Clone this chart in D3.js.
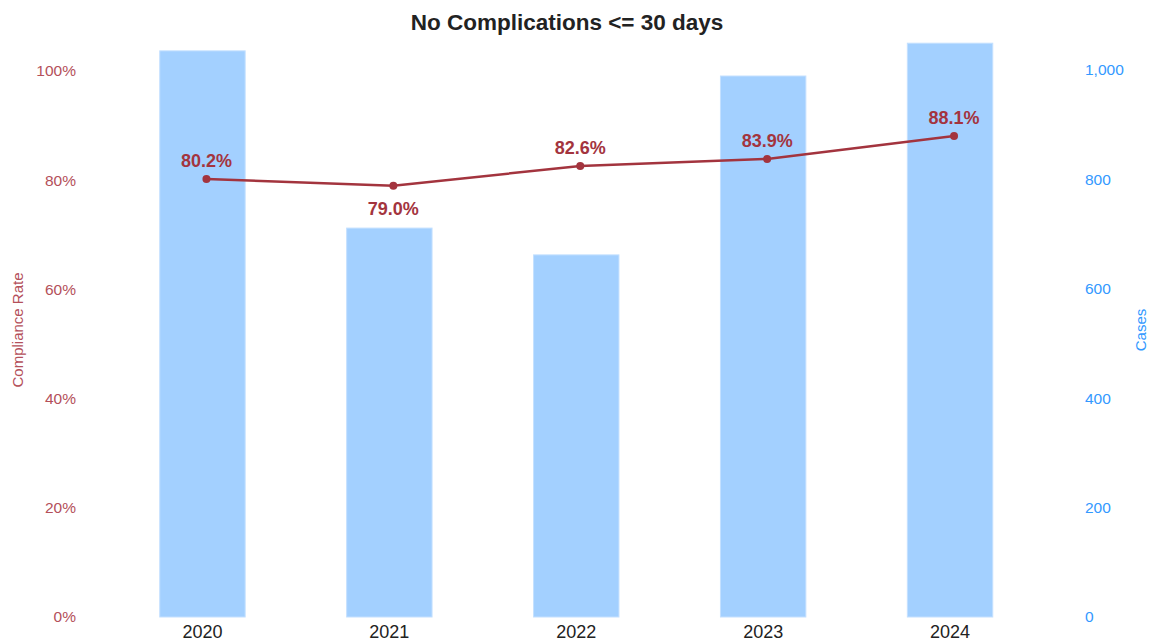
<!DOCTYPE html>
<html><head><meta charset="utf-8">
<script src="https://cdn.jsdelivr.net/npm/d3@7"></script>
<style>body{margin:0;background:#fff;font-family:"Liberation Sans",Arial,sans-serif;}</style>
</head><body><svg id="c" width="1153" height="644"></svg>
<script>
const years = ["2020","2021","2022","2023","2024"];
const cases = [1035, 711, 662, 989, 1049];
const compliance = [0.802, 0.790, 0.826, 0.839, 0.881];
const leftTicks = [0, 0.2, 0.4, 0.6, 0.8, 1.0];
const rightTicks = [0, 200, 400, 600, 800, 1000];
const labelBelow = [false, true, false, false, false];

const svg = d3.select("#c");
const x = d3.scaleBand().domain(years).range([109, 1043.5]).paddingInner(0.543).paddingOuter(0.2715);
const yL = d3.scaleLinear().domain([0, 1]).range([617, 71]);
const yR = d3.scaleLinear().domain([0, 1000]).range([617, 70]);

svg.append("text").attr("x", 567).attr("y", 30).attr("text-anchor", "middle")
  .attr("font-size", 22.5).attr("font-weight", "bold").attr("fill", "#222").text("No Complications <= 30 days");

svg.selectAll("rect.bar").data(years).join("rect").attr("class", "bar")
  .attr("x", d => x(d)).attr("width", x.bandwidth())
  .attr("y", (d, i) => yR(cases[i])).attr("height", (d, i) => yR(0) - yR(cases[i]))
  .attr("fill", "#a3d0ff").attr("stroke", "#c4e0ff").attr("stroke-width", 1);

const axL = svg.append("g").attr("transform", "translate(76,0)")
  .call(d3.axisLeft(yL).tickValues(leftTicks).tickFormat(d3.format(".0%")).tickSize(0).tickPadding(0));
axL.select(".domain").remove();
axL.selectAll("text").attr("font-size", 15.5).attr("fill", "#b4505a").attr("font-family", "Liberation Sans, Arial, sans-serif");

const axR = svg.append("g").attr("transform", "translate(1085,0)")
  .call(d3.axisRight(yR).tickValues(rightTicks).tickFormat(d3.format(",")).tickSize(0).tickPadding(0));
axR.select(".domain").remove();
axR.selectAll("text").attr("font-size", 15.5).attr("fill", "#3399ff").attr("font-family", "Liberation Sans, Arial, sans-serif");

const axB = svg.append("g").attr("transform", "translate(0,617)")
  .call(d3.axisBottom(x).tickSize(0).tickPadding(8));
axB.select(".domain").remove();
axB.selectAll("text").attr("font-size", 18).attr("fill", "#222").attr("font-family", "Liberation Sans, Arial, sans-serif");

svg.append("text").attr("transform", "translate(23,330) rotate(-90)").attr("text-anchor", "middle")
  .attr("font-size", 15).attr("fill", "#b4505a").text("Compliance Rate");
svg.append("text").attr("transform", "translate(1146,330) rotate(-90)").attr("text-anchor", "middle")
  .attr("font-size", 15).attr("fill", "#3399ff").text("Cases");

const cx = d => x(d) + x.bandwidth() / 2 + 4;
const line = d3.line().x(d => cx(d)).y((d, i) => yL(compliance[i]));
svg.append("path").datum(years).attr("d", line).attr("fill", "none")
  .attr("stroke", "#a3343e").attr("stroke-width", 2.5);
svg.selectAll("circle.pt").data(years).join("circle").attr("class", "pt")
  .attr("cx", cx).attr("cy", (d, i) => yL(compliance[i])).attr("r", 4).attr("fill", "#a3343e");
svg.selectAll("text.lbl").data(years).join("text").attr("class", "lbl")
  .attr("x", cx).attr("y", (d, i) => yL(compliance[i]) + (labelBelow[i] ? 29 : -12))
  .attr("text-anchor", "middle").attr("font-size", 18).attr("font-weight", "bold").attr("fill", "#a3343e")
  .text((d, i) => d3.format(".1%")(compliance[i]));
</script></body></html>
